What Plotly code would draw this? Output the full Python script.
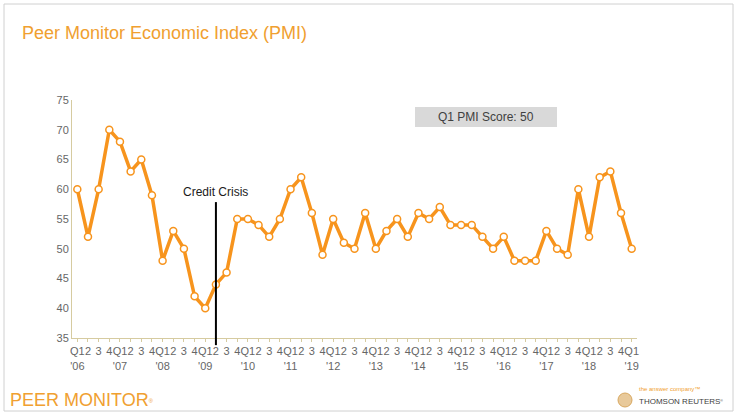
import plotly.graph_objects as go

years = ["'06", "'07", "'08", "'09", "'10", "'11", "'12", "'13", "'14", "'15", "'16", "'17", "'18", "'19"]
quarters = ["Q1", "2", "3", "4"]
pmi = [60, 52, 60, 70,
       68, 63, 65, 59,
       48, 53, 50, 42,
       40, 44, 46, 55,
       55, 54, 52, 55,
       60, 62, 56, 49,
       55, 51, 50, 56,
       50, 53, 55, 52,
       56, 55, 57, 54,
       54, 54, 52, 50,
       52, 48, 48, 48,
       53, 50, 49, 60,
       52, 62, 63, 56,
       50]

tick_text = []
for i in range(len(pmi)):
    q = i % 4
    if q == 0:
        tick_text.append("Q1<br>" + years[i // 4])
    else:
        tick_text.append(quarters[q])
xs = list(range(len(pmi)))
crisis_idx = 13
ORANGE = "#F7941D"

fig = go.Figure()
fig.add_trace(go.Scatter(
    x=xs, y=pmi, mode="lines+markers",
    line=dict(color=ORANGE, width=3.5),
    marker=dict(size=7, color="white", line=dict(color=ORANGE, width=1.5)),
    hoverinfo="skip", showlegend=False))

fig.update_layout(
    width=739, height=419,
    margin=dict(l=72, r=102, t=100, b=81),
    paper_bgcolor="white", plot_bgcolor="white",
    font=dict(family="Liberation Sans, Arial, sans-serif", color="#595959", size=11),
    title=dict(text="Peer Monitor Economic Index (PMI)", x=22/739, xref="container",
               y=1-33/419, yref="container", xanchor="left", yanchor="middle",
               font=dict(size=18, color="#F0A030")),
    xaxis=dict(range=[-0.5, len(pmi)-0.5], tickmode="array", tickvals=xs, ticktext=tick_text,
               tickangle=0, showgrid=False, zeroline=False, showline=True,
               linecolor="#D6CBA0", linewidth=1, ticks="outside", ticklen=3,
               tickcolor="#D6CBA0", tickfont=dict(size=11, color="#666666")),
    yaxis=dict(range=[35, 75], dtick=5, showgrid=False, zeroline=False, showline=True,
               linecolor="#D6CBA0", linewidth=1, ticks="", tickfont=dict(size=11, color="#666666")),
)

fig.add_shape(type="line", xref="x", yref="paper", x0=crisis_idx, x1=crisis_idx,
              y0=-0.03, y1=0.571, line=dict(color="black", width=2))
fig.add_annotation(x=crisis_idx, xref="x", y=0.613, yref="paper", text="Credit Crisis",
                   showarrow=False, font=dict(size=12, color="#1a1a1a"),
                   xanchor="center", yanchor="middle")

fig.add_shape(type="rect", xref="paper", yref="paper",
              x0=(415-72)/565, x1=(557-72)/565, y0=(338-127)/238, y1=(338-107)/238,
              fillcolor="#D9D9D9", line=dict(width=0), layer="below")
fig.add_annotation(x=(486-72)/565, xref="paper", y=(338-117)/238, yref="paper",
                   text="Q1 PMI Score: " + str(pmi[-1]), showarrow=False,
                   font=dict(size=12, color="#404040"), xanchor="center", yanchor="middle")

# slide frame
fig.add_shape(type="rect", xref="paper", yref="paper",
              x0=(4-72)/565, x1=(733-72)/565, y0=(338-411)/238, y1=(338-4)/238,
              line=dict(color="#D0D0D0", width=1), fillcolor="rgba(0,0,0,0)", layer="below")

# footer
fig.add_annotation(x=(8-72)/565, xref="paper", y=(338-400)/238, yref="paper",
                   text="PEER MONITOR<span style='font-size:8px'><sup>®</sup></span>", showarrow=False,
                   xanchor="left", yanchor="middle",
                   font=dict(size=18, color="#F0A030", family="Liberation Sans Narrow, Liberation Sans, sans-serif"))
fig.add_shape(type="circle", xref="paper", yref="paper",
              x0=(618-72)/565, x1=(632-72)/565, y0=(338-407)/238, y1=(338-393)/238,
              fillcolor="#E8C99A", line=dict(color="#D8A860", width=1))
fig.add_annotation(x=(637-72)/565, xref="paper", y=(338-389)/238, yref="paper",
                   text="the answer company™", showarrow=False, xanchor="left", yanchor="middle",
                   font=dict(size=6, color="#F0A030"))
fig.add_annotation(x=(637-72)/565, xref="paper", y=(338-401)/238, yref="paper",
                   text="THOMSON REUTERS<span style='font-size:5px'><sup>®</sup></span>", showarrow=False,
                   xanchor="left", yanchor="middle",
                   font=dict(size=8, color="#404040"))

fig.write_html("out.html", config={"displayModeBar": False},
               post_script="document.body.style.margin='0';")
